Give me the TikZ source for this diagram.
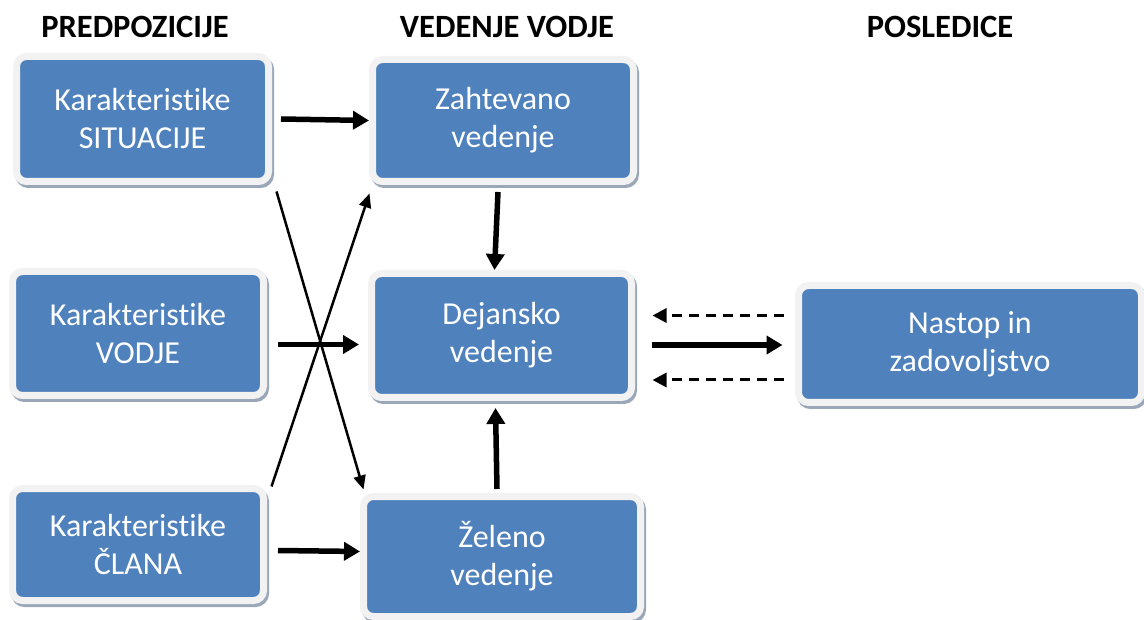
\documentclass[tikz,border=0pt]{standalone}
\usepackage{fontspec}
\setmainfont{Carlito}[Ligatures={NoCommon}]
\usetikzlibrary{calc,arrows.meta,positioning,shadows}
\definecolor{boxBlue}{HTML}{4F81BD}
\definecolor{boxRim}{HTML}{F2F2F2}
\definecolor{boxShade}{HTML}{9AA7B9}

\tikzset{
    boxStyle/.style={rectangle, rounded corners=10pt, fill=boxBlue, draw=boxRim,
        line width=7pt, text=white, align=center, inner sep=0pt,
        font=\fontsize{32}{38}\selectfont,
        drop shadow={shadow xshift=2pt, shadow yshift=-3pt, fill=boxShade,
            draw=boxShade, line width=7pt, opacity=1}},
    headStyle/.style={font=\fontsize{32.5}{36}\selectfont\bfseries},
    thickArrow/.style={line width=5.5pt, -{Triangle[length=16pt,width=18pt]}},
    thinArrow/.style={line width=2.5pt, -{Triangle[length=14pt,width=12pt]}},
    dashArrow/.style={line width=3pt, dash pattern=on 10pt off 7pt,
        -{Triangle[length=14pt,width=14pt]}}
}

\begin{document}
\begin{tikzpicture}[x=1pt,y=-1pt]

\useasboundingbox (0,0) rectangle (1144,620);

\newcommand{\drawBox}[6]{
    \node[boxStyle, minimum width=#4pt, minimum height=#5pt] (#1) at (#2,#3) {#6};
}

\node[headStyle] (nHeadPred) at (135,27) {PREDPOZICIJE};
\node[headStyle] (nHeadVed) at (507,27) {VEDENJE VODJE};
\node[headStyle] (nHeadPos) at (940,27) {POSLEDICE};

\drawBox{nSitBox}{142.5}{119}{252}{125}{Karakteristike\\SITUACIJE}
\drawBox{nVodBox}{138}{333.5}{251}{124}{Karakteristike\\VODJE}
\drawBox{nClanBox}{138}{544.5}{251}{112}{Karakteristike\\ČLANA}
\drawBox{nZahBox}{503}{120.5}{261}{122}{Zahtevano\\vedenje}
\drawBox{nDejBox}{501.5}{335.5}{260}{124}{Dejansko\\vedenje}
\drawBox{nZelBox}{502}{556.5}{277}{120}{Želeno\\vedenje}
\drawBox{nNasBox}{970}{344}{343}{117}{Nastop in\\zadovoljstvo}

\draw[thickArrow] ([xshift=9pt]nSitBox.east) -- (nZahBox.west);
\draw[thickArrow] ([shift={(11,11)}]nVodBox.east) -- ([shift={(-9,9)}]nDejBox.west);
\draw[thickArrow] ([shift={(11,6)}]nClanBox.east) -- ([yshift=5pt]nZelBox.west);

\draw[thinArrow] ([shift={(4.5,6.5)}]nSitBox.south east) -- ([shift={(3.5,-3.5)}]nZelBox.north west);
\draw[thinArrow] ([shift={(4.5,1.5)}]nClanBox.north east) -- ([shift={(0.5,8.5)}]nZahBox.south west);

\draw[thickArrow] ([shift={(-5,7)}]nZahBox.south) -- ([xshift=-7pt]nDejBox.north);
\draw[thickArrow] ([shift={(-5,-4)}]nZelBox.north) -- ([shift={(-6,7)}]nDejBox.south);

\draw[thickArrow] ([shift={(16.5,9.5)}]nDejBox.east) -- ([shift={(-12.5,1)}]nNasBox.west);
\draw[dashArrow] ([shift={(-11.5,-28.5)}]nNasBox.west) -- ([shift={(17.5,-20)}]nDejBox.east);
\draw[dashArrow] ([shift={(-11.5,36)}]nNasBox.west) -- ([shift={(17.5,44.5)}]nDejBox.east);

\end{tikzpicture}
\end{document}
